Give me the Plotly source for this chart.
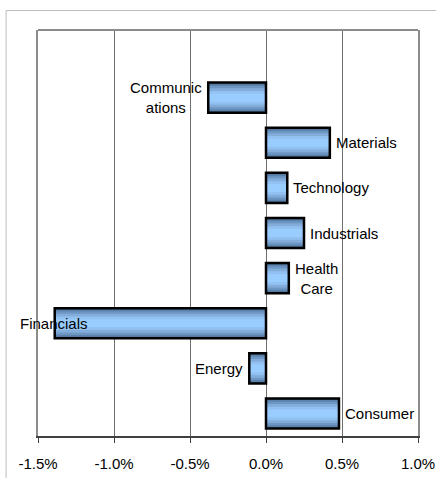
import plotly.graph_objects as go

# ---- data ----
categories = ["Consumer", "Energy", "Financials", "Health<br>Care", "Industrials",
              "Technology", "Materials", "Communic<br>ations"]
returns_pct = [0.48, -0.11, -1.39, 0.15, 0.25, 0.14, 0.42, -0.38]
tick_vals = [-1.5, -1.0, -0.5, 0.0, 0.5, 1.0]
tick_text = ["-1.5%", "-1.0%", "-0.5%", "0.0%", "0.5%", "1.0%"]
title_text = "Q4 Sector Return Contribution vs. S&P 500"

FONT = "Liberation Sans, Arial, sans-serif"
XMIN, XMAX = -1.5, 1.0
ypos = list(range(len(categories)))

fig = go.Figure()

# gradient-like fill built from overlaid bars (outer dark -> inner light)
layers = [
    (0.667, "#4A6C90"),
    (0.60, "#5B82AC"),
    (0.52, "#6E96C3"),
    (0.42, "#82ADDB"),
    (0.30, "#92C1F1"),
    (0.18, "#99CCFF"),
]
for w, c in layers:
    fig.add_trace(go.Bar(
        x=returns_pct, y=ypos, orientation="h", width=w,
        marker=dict(color=c, line=dict(width=0)), textposition="none",
        hoverinfo="skip", showlegend=False))
# black outline on top
fig.add_trace(go.Bar(
    x=returns_pct, y=ypos, orientation="h", width=0.667,
    marker=dict(color="rgba(0,0,0,0)", line=dict(color="black", width=2.5)),
    hovertext=categories, hoverinfo="x+text", textposition="none", showlegend=False))

# labels at the outside end of each bar
for cat, v, y in zip(categories, returns_pct, ypos):
    if v < XMIN + 0.3:
        x, anchor, shift = XMIN, "left", -20
    elif v >= 0:
        x, anchor, shift = v, "left", 4
    else:
        x, anchor, shift = v, "right", -4
    fig.add_annotation(x=x, y=y, xref="x", yref="y", text=cat, showarrow=False,
                       xanchor=anchor, yanchor="middle", xshift=shift, align="center",
                       font=dict(family=FONT, size=15, color="black"))

# partially visible title at the very top
fig.add_annotation(x=0.47, y=1.069, xref="paper", yref="paper", text="<b>" + title_text + "</b>",
                   showarrow=False, xanchor="center", yanchor="bottom",
                   font=dict(family=FONT, size=15, color="black"))

# outer chart-area frame (top and left edges)
fig.add_shape(type="line", xref="paper", yref="paper", x0=-0.084, x1=1.2, y0=1.048, y1=1.048,
              line=dict(color="#BDBDBD", width=1))
fig.add_shape(type="line", xref="paper", yref="paper", x0=-0.084, x1=-0.084, y0=-0.3, y1=1.048,
              line=dict(color="#BDBDBD", width=1))
# top border of plot area
fig.add_shape(type="line", xref="paper", yref="paper", x0=0, x1=1, y0=1, y1=1,
              line=dict(color="#8C8C8C", width=2))

fig.update_layout(
    width=436, height=478,
    margin=dict(l=38, r=18, t=30, b=42),
    barmode="overlay",
    paper_bgcolor="white", plot_bgcolor="white",
    font=dict(family=FONT, size=15, color="black"),
    xaxis=dict(range=[XMIN, XMAX], tickvals=tick_vals, ticktext=tick_text,
               showgrid=True, gridcolor="#6E6E6E", gridwidth=1, zeroline=False,
               showline=True, linecolor="#404040", linewidth=2,
               ticks="outside", ticklen=5, tickcolor="#404040", tickwidth=1,
               ticklabelstandoff=8, automargin=False,
               tickfont=dict(family=FONT, size=15, color="black")),
    yaxis=dict(range=[-0.5, 8.5], showticklabels=False, showgrid=False, zeroline=False,
               showline=True, mirror=True, linecolor="#8C8C8C", linewidth=2, ticks="",
               automargin=False),
)

fig.write_html("out.html", config={"displayModeBar": False},
               post_script="document.body.style.margin='0';document.body.style.overflow='hidden';")
